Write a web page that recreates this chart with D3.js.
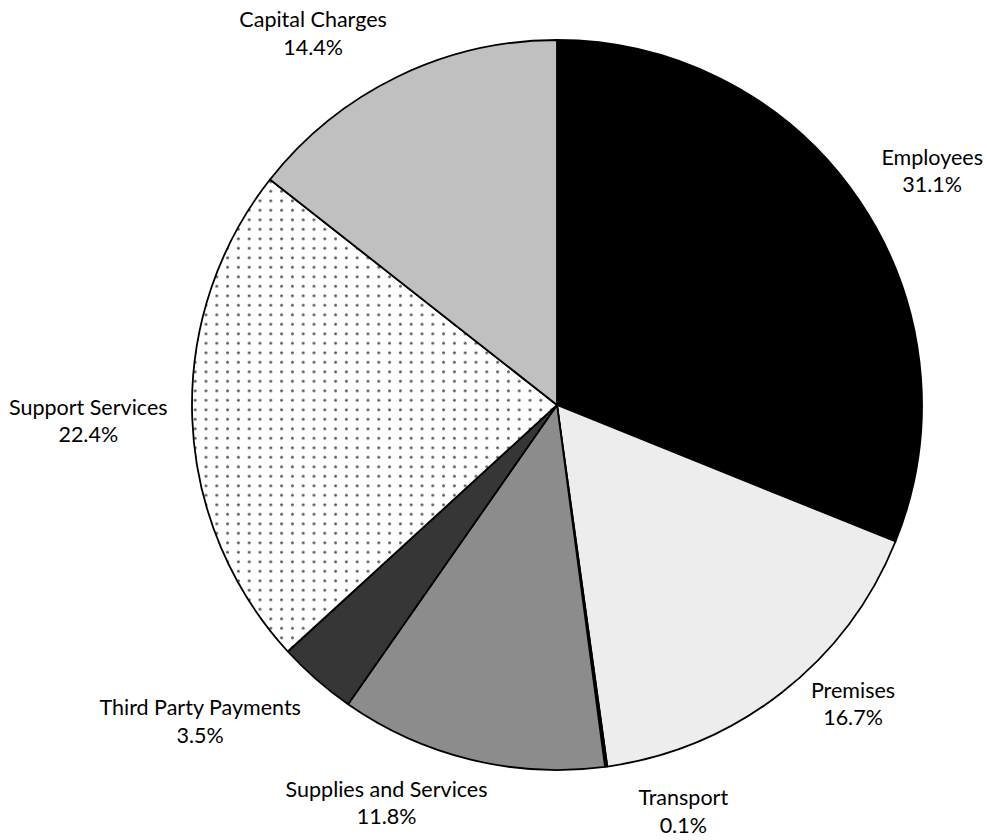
<!DOCTYPE html>
<html>
<head>
<meta charset="utf-8">
<script src="https://cdn.jsdelivr.net/npm/d3@7"></script>
<style>
  body { margin: 0; background: #fff; }
  text { font-family: Lato, "Open Sans", sans-serif; }
</style>
</head>
<body>
<div id="chart"></div>
<script>
// Chart data
var categories = ["Employees", "Premises", "Transport", "Supplies and Services",
                  "Third Party Payments", "Support Services", "Capital Charges"];
var shares = [31.1, 16.7, 0.1, 11.8, 3.5, 22.4, 14.4];

// Fills for each slice (Support Services uses a dot pattern)
var fills = ["#000000", "#ededed", "#000000", "#8c8c8c", "#363636", "url(#dots)", "#c0c0c0"];

// Label placement: angle offset from the slice middle (degrees) and distance from centre
var labelShift = [2.1, -6.7, -9.5, 9.5, 7.2, 0.2, -7.4];
var labelDist = [442, 421, 426, 433, 477, 469, 444];

var svgWidth = 987;
var svgHeight = 840;
var cx = 557, cy = 405, radius = 365;

var svg = d3.select("#chart")
    .append("svg")
    .attr("width", svgWidth)
    .attr("height", svgHeight);

// Dot pattern
var pattern = svg.append("defs").append("pattern")
    .attr("id", "dots")
    .attr("patternUnits", "userSpaceOnUse")
    .attr("width", 10.8)
    .attr("height", 9.5);
pattern.append("rect")
    .attr("width", 10.8).attr("height", 9.5)
    .attr("fill", "#fff");
pattern.append("circle")
    .attr("cx", 5.4).attr("cy", 4.75).attr("r", 1.5)
    .attr("fill", "#555");

var data = categories.map(function(c, i) { return { name: c, value: shares[i], i: i }; });

var pie = d3.pie()
    .sort(null)
    .value(d => d.value);

var arc = d3.arc()
    .innerRadius(0)
    .outerRadius(radius);

var g = svg.append("g")
    .attr("transform", `translate(${cx}, ${cy})`);

var arcs = pie(data);

g.selectAll("path")
    .data(arcs)
    .enter()
    .append("path")
    .attr("d", arc)
    .attr("fill", d => fills[d.data.i])
    .attr("stroke", "#000")
    .attr("stroke-width", 1.8)
    .attr("stroke-linejoin", "round");

// Labels
var labels = g.selectAll("text.lbl")
    .data(arcs)
    .enter()
    .append("text")
    .attr("class", "lbl")
    .attr("text-anchor", "middle")
    .attr("font-size", "21.5px")
    .attr("fill", "#000")
    .attr("transform", function(d) {
        var a = (d.startAngle + d.endAngle) / 2 + labelShift[d.data.i] * Math.PI / 180;
        var r = labelDist[d.data.i];
        return `translate(${r * Math.sin(a)}, ${-r * Math.cos(a)})`;
    });

labels.append("tspan")
    .attr("x", 0)
    .attr("y", -6.5)
    .text(d => d.data.name);

labels.append("tspan")
    .attr("x", 0)
    .attr("y", 21)
    .text(d => d.data.value.toFixed(1) + "%");
</script>
</body>
</html>
